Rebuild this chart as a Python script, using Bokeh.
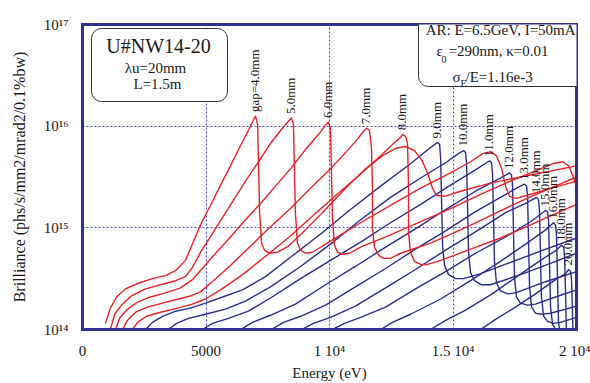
import numpy as np
from bokeh.plotting import figure
from bokeh.models import (Range1d, FixedTicker, CustomJSTickFormatter, LinearAxis, LogAxis,
                          Label, BoxAnnotation, ColumnDataSource)
from bokeh.core.properties import value
from bokeh.embed import file_html
from bokeh.resources import INLINE

FONT = "Liberation Serif"
RED = "#e8232b"
BLUE = "#2c2e8f"
FRAME = "#2e3192"
GRID = "#4a4ab8"
INK = "#1a1a1a"

# ---------------- data (energy in eV, log10 of brilliance) ----------------
gap4_energy = [930, 1130, 1380, 1740, 2310, 2830, 3360, 3770, 4170, 4450, 4780, 5180, 5590, 5990, 6400, 6720, 6920, 7000,
               7090, 7130, 7170, 7250, 7370, 7570, 7900, 8340,
               9030, 9840, 10650, 11460, 12150, 12670, 13080, 13440, 13730, 13970, 14170, 14330, 14660, 15310, 16520, 18140, 20000]
gap4_logb = [14.06, 14.21, 14.32, 14.40, 14.46, 14.50, 14.53, 14.58, 14.68, 14.84, 15.03, 15.22, 15.42, 15.61, 15.81, 15.96, 16.06, 16.10,
             16.02, 15.58, 15.15, 14.85, 14.78, 14.75, 14.76, 14.82,
             14.98, 15.18, 15.39, 15.58, 15.71, 15.78, 15.80, 15.76, 15.67, 15.54, 15.39, 15.32, 15.31, 15.36, 15.44, 15.52, 15.61]

gap5_energy = [1130, 1300, 1580, 1980, 2550, 3160, 3770, 4170, 4450, 4780, 5180, 5590, 6110, 6600, 7130, 7610, 8060, 8340, 8460,
               8540, 8580, 8620, 8700, 8830, 9030, 9310,
               10040, 11260, 12470, 13690, 14900, 15710, 16200, 16520, 16760, 16970, 17130, 17290, 17570, 18140, 19150, 20000]
gap5_logb = [14.00, 14.15, 14.24, 14.33, 14.40, 14.44, 14.48, 14.52, 14.61, 14.76, 14.91, 15.07, 15.27, 15.46, 15.65, 15.83, 15.97, 16.05, 16.08,
             16.02, 15.58, 15.15, 14.85, 14.78, 14.75, 14.76,
             14.87, 15.05, 15.22, 15.39, 15.54, 15.65, 15.73, 15.75, 15.71, 15.58, 15.41, 15.31, 15.29, 15.33, 15.40, 15.46]

gap6_energy = [1340, 1500, 1780, 2230, 2750, 3360, 3970, 4450, 4780, 5390, 5990, 6600, 7210, 7810, 8420, 9030, 9560, 9840, 9960,
               10040, 10080, 10120, 10200, 10330, 10530, 10810,
               11260, 12470, 13690, 14900, 16120, 17330, 18340, 19030, 19440, 19680, 19840, 20000]
gap6_logb = [14.00, 14.11, 14.19, 14.27, 14.32, 14.36, 14.41, 14.49, 14.58, 14.75, 14.91, 15.08, 15.24, 15.41, 15.58, 15.77, 15.92, 16.01, 16.04,
             15.97, 15.53, 15.10, 14.83, 14.76, 14.74, 14.75,
             14.81, 14.93, 15.06, 15.19, 15.33, 15.46, 15.56, 15.63, 15.65, 15.61, 15.52, 15.41]

gap7_energy = [1620, 1820, 2150, 2630, 3240, 3890, 4370, 4780, 5390, 5990, 6800, 7610, 8420, 9230, 10040, 10650, 11090, 11380, 11500,
               11620, 11700, 11740, 11740, 11820, 11990, 12190, 12470,
               12880, 14090, 15310, 16520, 17730, 18950, 20000]
gap7_logb = [14.00, 14.09, 14.17, 14.22, 14.26, 14.30, 14.33, 14.37, 14.50, 14.63, 14.82, 15.01, 15.19, 15.39, 15.58, 15.74, 15.86, 15.95, 15.98,
             15.96, 15.78, 15.39, 15.00, 14.81, 14.73, 14.70, 14.70,
             14.75, 14.85, 14.98, 15.12, 15.26, 15.39, 15.50]

gap8_energy = [2020, 2230, 2590, 3160, 3850, 4450, 4980, 5590, 6480, 7410, 8420, 9430, 10450, 11260, 12070, 12590, 12880, 12960,
               13080, 13160, 13200, 13200, 13280, 13440, 13690, 13970,
               14500, 15710, 16920, 18140, 19150, 20000]
gap8_logb = [14.00, 14.07, 14.13, 14.17, 14.21, 14.25, 14.30, 14.39, 14.54, 14.72, 14.92, 15.14, 15.36, 15.53, 15.71, 15.83, 15.89, 15.92,
             15.90, 15.83, 15.39, 14.95, 14.76, 14.67, 14.64, 14.64,
             14.68, 14.79, 14.90, 15.03, 15.14, 15.23]

gap9_energy = [2550, 2830, 3240, 3770, 4370, 4980, 5670, 6480, 7410, 8420, 9640, 10850, 12070, 13280, 14090, 14370,
               14460, 14500, 14540, 14580, 14660, 14820, 15100, 15430,
               16120, 17330, 18540, 20000]
gap9_logb = [14.00, 14.07, 14.13, 14.18, 14.21, 14.26, 14.32, 14.39, 14.52, 14.71, 14.94, 15.18, 15.41, 15.63, 15.79, 15.84,
             15.82, 15.68, 15.24, 14.81, 14.63, 14.54, 14.50, 14.50,
             14.55, 14.66, 14.77, 14.90]

gap10_energy = [3480, 3810, 4290, 4980, 5790, 6600, 7610, 8830, 10040, 11260, 12470, 13690, 14700, 15220, 15430,
                15510, 15550, 15590, 15630, 15710, 15870, 16160, 16520,
                17730, 18950, 20000]
gap10_logb = [14.00, 14.06, 14.11, 14.15, 14.20, 14.28, 14.42, 14.62, 14.84, 15.08, 15.30, 15.49, 15.64, 15.73, 15.76,
              15.74, 15.63, 15.19, 14.76, 14.56, 14.48, 14.44, 14.44,
              14.54, 14.65, 14.75]

gap11_energy = [4860, 5260, 5910, 6720, 7610, 8830, 10040, 11260, 12470, 13690, 14900, 15910, 16480,
                16560, 16600, 16640, 16680, 16760, 16920, 17210, 17530,
                18750, 20000]
gap11_logb = [14.00, 14.06, 14.11, 14.18, 14.31, 14.50, 14.68, 14.86, 15.05, 15.23, 15.42, 15.57, 15.66,
              15.64, 15.53, 15.10, 14.66, 14.46, 14.38, 14.35, 14.36,
              14.47, 14.57]

gap12_energy = [6400, 6880, 7610, 8620, 9840, 11050, 12270, 13480, 14700, 15910, 16920, 17290,
                17370, 17410, 17450, 17490, 17570, 17730, 18020, 18340,
                19150, 20000]
gap12_logb = [14.00, 14.07, 14.14, 14.25, 14.44, 14.62, 14.81, 14.99, 15.18, 15.36, 15.49, 15.54,
              15.52, 15.42, 14.95, 14.51, 14.32, 14.26, 14.24, 14.25,
              14.32, 14.39]

gap13_energy = [7650, 8140, 8830, 9840, 11050, 12270, 13480, 14700, 15910, 16920, 17650, 17900,
                17980, 18020, 18060, 18100, 18180, 18340, 18580, 18950,
                20000]
gap13_logb = [14.00, 14.07, 14.13, 14.24, 14.42, 14.60, 14.79, 14.97, 15.16, 15.30, 15.40, 15.43,
              15.41, 15.31, 14.85, 14.42, 14.22, 14.16, 14.15, 14.16,
              14.23]

gap14_energy = [8870, 9350, 10040, 11050, 12270, 13480, 14700, 15910, 17130, 17940, 18380,
                18460, 18500, 18540, 18580, 18670, 18830, 19070, 19350,
                20000]
gap14_logb = [14.00, 14.06, 14.12, 14.23, 14.41, 14.59, 14.78, 14.96, 15.15, 15.24, 15.30,
              15.28, 15.18, 14.76, 14.32, 14.13, 14.08, 14.06, 14.07,
              14.12]

gap15_energy = [10120, 10610, 11260, 12270, 13480, 14700, 15910, 17130, 18140, 18750,
                18830, 18870, 18910, 18950, 19030, 19190, 19440,
                20000]
gap15_logb = [14.00, 14.06, 14.12, 14.22, 14.40, 14.57, 14.75, 14.91, 15.06, 15.17,
              15.16, 15.06, 14.62, 14.22, 14.05, 13.99, 13.97,
              14.00]

gap16_energy = [12070, 12550, 13280, 14500, 15710, 16920, 17940, 18750, 19070,
                19150, 19190, 19230, 19270, 19350]
gap16_logb = [14.00, 14.07, 14.15, 14.30, 14.48, 14.67, 14.84, 14.98, 15.05,
              15.03, 14.93, 14.52, 14.08, 13.93]

gap18_energy = [14090, 14700, 15510, 16520, 17530, 18540, 19190, 19390,
                19480, 19520, 19560, 19600]
gap18_logb = [14.00, 14.09, 14.19, 14.34, 14.51, 14.68, 14.78, 14.83,
              14.81, 14.71, 14.32, 13.88]

gap20_energy = [16120, 16720, 17530, 18340, 19150, 19560, 19680,
                19760, 19800, 19840, 19880]
gap20_logb = [14.00, 14.10, 14.22, 14.35, 14.49, 14.55, 14.59,
              14.57, 14.48, 14.13, 13.84]

gap_labels = ["gap=4.0mm", "5.0mm", "6.0mm", "7.0mm", "8.0mm", "9.0mm", "10.0mm", "11.0mm",
              "12.0mm", "13.0mm", "14.0mm", "15.0mm", "16.0mm", "18.0mm", "20.0mm"]
x_ticks = [0, 5000, 10000, 15000, 20000]
y_ticks = [1e14, 1e15, 1e16, 1e17]

curves = [
    (gap4_energy, gap4_logb, RED), (gap5_energy, gap5_logb, RED), (gap6_energy, gap6_logb, RED),
    (gap7_energy, gap7_logb, RED), (gap8_energy, gap8_logb, RED),
    (gap9_energy, gap9_logb, BLUE), (gap10_energy, gap10_logb, BLUE), (gap11_energy, gap11_logb, BLUE),
    (gap12_energy, gap12_logb, BLUE), (gap13_energy, gap13_logb, BLUE), (gap14_energy, gap14_logb, BLUE),
    (gap15_energy, gap15_logb, BLUE), (gap16_energy, gap16_logb, BLUE), (gap18_energy, gap18_logb, BLUE),
    (gap20_energy, gap20_logb, BLUE),
]

# ---------------- figure ----------------
p = figure(width=590, height=383,
           x_range=Range1d(0, 20000), y_range=Range1d(1e14, 1e17), y_axis_type="log",
           output_backend="svg", toolbar_location=None,
           min_border_left=82, min_border_right=14, min_border_top=24, min_border_bottom=50)
p.outline_line_color = None
p.background_fill_color = "white"
p.border_fill_color = "white"

x_fmt = CustomJSTickFormatter(code=r"""
if (tick == 0) { return "0"; }
if (tick < 10000) { return tick.toFixed(0); }
return (tick / 10000).toString() + " 10\u2074";
""")
y_fmt = CustomJSTickFormatter(code=r"""
const sup = {"0": "\u2070", "1": "\u00b9", "2": "\u00b2", "3": "\u00b3", "4": "\u2074",
             "5": "\u2075", "6": "\u2076", "7": "\u2077", "8": "\u2078", "9": "\u2079"};
const e = Math.round(Math.log10(tick));
return "10" + String(e).split("").map(function (c) { return sup[c]; }).join("");
""")

def style_axis(ax):
    ax.axis_line_color = FRAME
    ax.axis_line_width = 3
    ax.axis_line_cap = "square"
    ax.major_tick_line_color = None
    ax.minor_tick_line_color = None
    ax.major_tick_out = 0
    ax.major_tick_in = 0
    ax.minor_tick_out = 0
    ax.minor_tick_in = 0
    ax.major_label_text_font = FONT
    ax.major_label_text_font_size = "15px"
    ax.major_label_text_color = INK
    ax.axis_label_text_font = FONT
    ax.axis_label_text_font_style = "normal"
    ax.axis_label_text_color = INK

xa = p.xaxis[0]
style_axis(xa)
xa.ticker = FixedTicker(ticks=x_ticks)
xa.formatter = x_fmt
xa.major_label_standoff = 13
xa.axis_label = "Energy (eV)"
xa.axis_label_text_font_size = "15px"
xa.axis_label_standoff = 3

ya = p.yaxis[0]
style_axis(ya)
ya.ticker = FixedTicker(ticks=y_ticks)
ya.formatter = y_fmt
ya.major_label_standoff = 14
ya.axis_label = "Brilliance (phs/s/mm2/mrad2/0.1%bw)"
ya.axis_label_text_font_size = "16px"
ya.axis_label_standoff = 13

top_ax = LinearAxis(ticker=FixedTicker(ticks=[]))
style_axis(top_ax)
top_ax.major_label_text_font_size = "0px"
p.add_layout(top_ax, "above")
right_ax = LogAxis(ticker=FixedTicker(ticks=[]))
style_axis(right_ax)
right_ax.major_label_text_font_size = "0px"
p.add_layout(right_ax, "right")

for g in (p.xgrid[0], p.ygrid[0]):
    g.grid_line_color = GRID
    g.grid_line_dash = "2 2"
    g.grid_line_width = 1
    g.minor_grid_line_color = None
p.ygrid[0].ticker = FixedTicker(ticks=y_ticks)
p.xgrid[0].ticker = FixedTicker(ticks=x_ticks)

# blue curves first, red on top
peak_e, peak_b = [], []
for energy, logb, color in curves:
    b = 10 ** np.array(logb)
    i = int(np.argmax(b))
    peak_e.append(energy[i])
    peak_b.append(b[i])
for energy, logb, color in [c for c in curves if c[2] == BLUE] + [c for c in curves if c[2] == RED]:
    p.line(energy, 10 ** np.array(logb), line_color=color, line_width=1.4)

lab_src = ColumnDataSource(dict(x=peak_e, y=peak_b, text=gap_labels))
p.text(x="x", y="y", text="text", source=lab_src, angle=np.pi / 2,
       text_align="left", text_baseline="middle", x_offset=-1, y_offset=-4,
       text_font=value(FONT), text_font_size=value("13px"), text_color=INK)

# ---------------- boxes ----------------
def box(l, r, b, t):
    return BoxAnnotation(left=l, right=r, bottom=b, top=t,
                         left_units="screen", right_units="screen",
                         bottom_units="screen", top_units="screen",
                         fill_color="white", fill_alpha=1.0,
                         line_color="#333333", line_alpha=1.0, line_width=1,
                         border_radius=10)

p.add_layout(box(9, 145, 228, 301))
p.add_layout(box(336, 640, 243, 321))

def lab(x, y, text, size, align="center"):
    return Label(x=x, y=y, x_units="screen", y_units="screen", text=text,
                 text_font=FONT, text_font_size=size, text_color=INK,
                 text_align=align, text_baseline="middle")

p.add_layout(lab(76, 284, "U#NW14-20", "20px"))
p.add_layout(lab(73, 262, "\u03bbu=20mm", "15px"))
p.add_layout(lab(75, 246, "L=1.5m", "15px"))

p.add_layout(lab(420, 300, "AR: E=6.5GeV, I=50mA,", "15px"))
p.add_layout(lab(354, 279, "\u03b5", "15px", "left"))
p.add_layout(lab(359, 270, "0", "10px", "left"))
p.add_layout(lab(366, 279, "=290nm, \u03ba=0.01", "15px", "left"))
p.add_layout(lab(370, 253, "\u03c3", "15px", "left"))
p.add_layout(lab(378, 246, "E", "10px", "left"))
p.add_layout(lab(383, 253, "/E=1.16e-3", "15px", "left"))

open("out.html", "w").write(file_html(p, INLINE))
